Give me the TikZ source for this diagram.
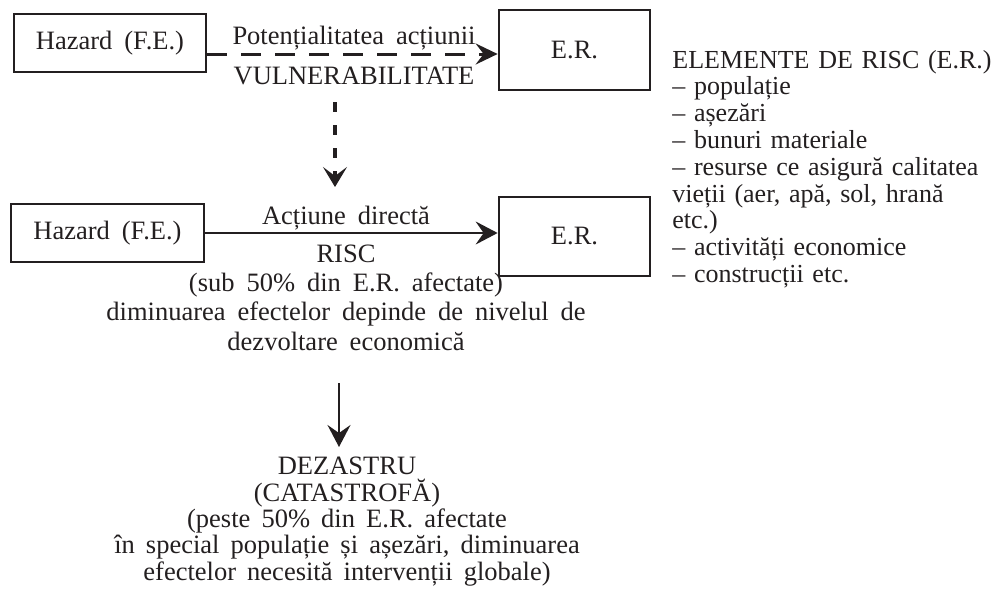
\documentclass[tikz,border=0pt]{standalone}
\usepackage{fontspec}
\setmainfont{Liberation Serif}
\usepackage{tikz}
\usetikzlibrary{arrows.meta}
\definecolor{ink}{HTML}{231F20}
\lineskiplimit=-100pt
\newcommand\MAINFONT{\fontsize{13.25}{14.6}\selectfont\spaceskip=0.45em plus 0.2em\relax}
\newcommand\LOWFONT{\fontsize{13.25}{13.15}\selectfont\spaceskip=0.42em plus 0.2em\relax}
\newcommand\SIDEFONT{\fontsize{13}{13.4}\selectfont}
\tikzset{
BOX/.style={draw=ink,line width=1.35pt,inner sep=0pt,text=ink},
LABEL/.style={text=ink,inner sep=0pt,align=center},
ARR/.style={draw=ink,line width=1.1pt,-{Stealth[length=11pt,width=11.5pt,inset=4pt]}},
DASHARR/.style={draw=ink,line width=1.5pt,dash pattern=on 10pt off 7pt,-{Stealth[length=11pt,width=10.5pt,inset=4pt]}},
VDASHARR/.style={draw=ink,line width=1.6pt,dash pattern=on 5pt off 6.5pt,-{Stealth[length=10pt,width=12pt,inset=4.5pt]}},
}
\begin{document}
\begin{tikzpicture}[x=0.5pt,y=-0.5pt,font=\MAINFONT] % hazard - risc - dezastru
	\useasboundingbox (0,0) rectangle (993,606);
	% potential action
	\node[BOX,minimum width=96pt,minimum height=29pt] (haz1) at (110,43) {Hazard (F.E.)};
	\node[BOX,minimum width=75.5pt,minimum height=40pt] (er1) at (574.5,50) {E.R.};
	\node[LABEL,anchor=base] (pot) at (354,44) {Potențialitatea acțiunii};
	\node[LABEL,anchor=base] (vul) at (354,84) {VULNERABILITATE};
	\path[DASHARR] ([yshift=-5.5pt]haz1.east) -- ([yshift=-5.5pt]haz1.east -| er1.west);
	\coordinate (vtop) at (335,102);
	\coordinate (vbot) at (335,187);
	\path[VDASHARR] (vtop) -- (vbot);
	% direct action
	\node[BOX,minimum width=96.5pt,minimum height=29pt] (haz2) at (107.5,233) {Hazard (F.E.)};
	\node[BOX,minimum width=75.5pt,minimum height=39.5pt] (er2) at (574.5,236.5) {E.R.};
	\node[LABEL,anchor=base] (act) at (346,224) {Acțiune directă};
	\path[ARR] (haz2.east) -- (haz2.east -| er2.west);
	\node[LABEL,anchor=base] (risc) at (346,350) {RISC\\(sub 50\% din E.R. afectate)\\diminuarea efectelor depinde de nivelul de\\dezvoltare economică};
	\coordinate (dtop) at (339,383);
	\coordinate (dbot) at (339,447);
	\path[ARR] (dtop) -- (dbot);
	\node[LABEL,anchor=base,font=\LOWFONT] (dez) at (347,580) {DEZASTRU\\(CATASTROFĂ)\\(peste 50\% din E.R. afectate\\în special populație și așezări, diminuarea\\efectelor necesită intervenții globale)};
	% elements at risk
	\node[LABEL,anchor=base west,text width=157.5pt,align=left,font=\SIDEFONT] (elem) at (672,68) {\makebox[\linewidth][s]{ELEMENTE DE RISC (E.R.)}\\– populație\\– așezări\\– bunuri materiale\\\makebox[\linewidth][s]{– resurse ce asigură calitatea}\\\makebox[\linewidth][s]{vieții (aer, apă, sol, hrană}\\etc.)\\– activități economice\\– construcții etc.};
\end{tikzpicture}
\end{document}
